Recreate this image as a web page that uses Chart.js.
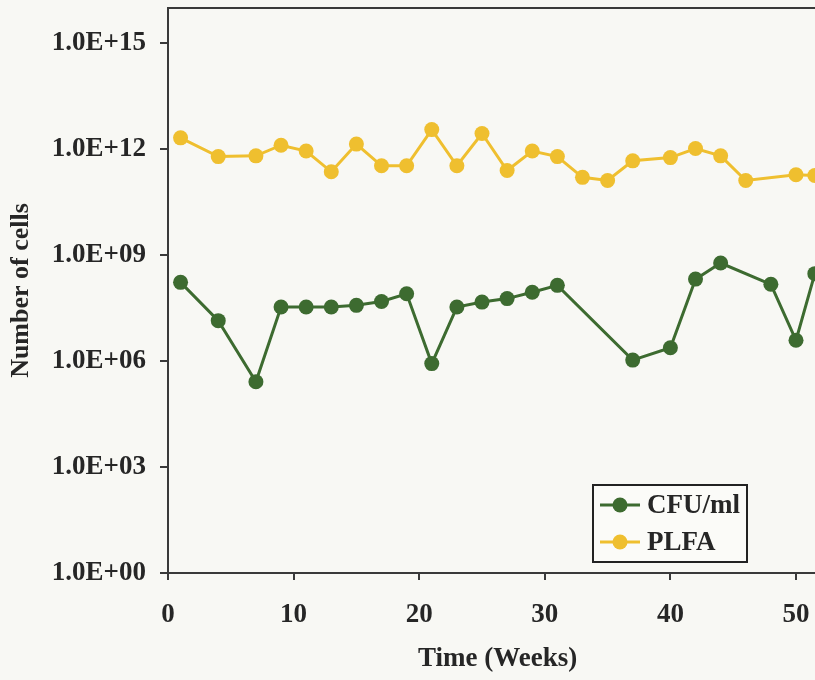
<!DOCTYPE html>
<html><head><meta charset="utf-8">
<script src="https://cdn.jsdelivr.net/npm/chart.js@4.4.0/dist/chart.umd.min.js"></script>
<style>
html,body{margin:0;padding:0;background:#f8f8f4;overflow:hidden;}
#wrap{width:815px;height:680px;overflow:hidden;position:relative;}
canvas{display:block;}
</style></head><body>
<div id="wrap"><canvas id="c" width="850" height="680"></canvas></div>
<script>
// ---- data ----
const seriesLabels = ['CFU/ml', 'PLFA'];
const cfuWeeks  = [1, 4, 7, 9, 11, 13, 15, 17, 19, 21, 23, 25, 27, 29, 31, 37, 40, 42, 44, 48, 50, 51.5];
const cfuValues = [1.7e8, 1.4e7, 2.6e5, 3.4e7, 3.4e7, 3.4e7, 3.8e7, 4.9e7, 8.1e7, 8.5e5, 3.4e7, 4.7e7,
                   5.9e7, 8.9e7, 1.4e8, 1.07e6, 2.4e6, 2.1e8, 6.0e8, 1.5e8, 3.9e6, 3.0e8];
const plfaWeeks  = [1, 4, 7, 9, 11, 13, 15, 17, 19, 21, 23, 25, 27, 29, 31, 33, 35, 37, 40, 42, 44, 46, 50, 51.5];
const plfaValues = [2.1e12, 6.2e11, 6.5e11, 1.3e12, 8.9e11, 2.3e11, 1.4e12, 3.4e11, 3.4e11, 3.6e12, 3.4e11, 2.8e12,
                    2.5e11, 8.9e11, 6.2e11, 1.6e11, 1.3e11, 4.7e11, 5.8e11, 1.05e12, 6.5e11, 1.3e11, 1.9e11, 1.8e11];
const xTickValues = [0, 10, 20, 30, 40, 50];
const yTickValues = [1, 1e3, 1e6, 1e9, 1e12, 1e15];
const xTitle = 'Time (Weeks)';
const yTitle = 'Number of cells';

// ---- styles ----
const FONT = '"Liberation Serif", "Times New Roman", serif';
const INK = '#262626';
const AXIS = '#3a3a3a';
const GREEN = '#3d6b30';
const GOLD = '#efbf2f';

Chart.defaults.font.family = FONT;
Chart.defaults.font.weight = 'bold';
Chart.defaults.color = INK;

function toXY(xs, ys) { return xs.map((x, i) => ({x: x, y: ys[i]})); }
function fmtSci(v) {
  const e = Math.round(Math.log10(v));
  return '1.0E+' + String(e).padStart(2, '0');
}

const bgPlugin = {
  id: 'bg',
  beforeDraw(chart) {
    const ctx = chart.ctx;
    ctx.save();
    ctx.fillStyle = '#f8f8f4';
    ctx.fillRect(0, 0, chart.width, chart.height);
    ctx.restore();
  }
};

const framePlugin = {
  id: 'frame',
  beforeDatasetsDraw(chart) {
    const a = chart.chartArea, ctx = chart.ctx;
    ctx.save();
    ctx.strokeStyle = AXIS;
    ctx.lineWidth = 2;
    ctx.strokeRect(a.left, a.top, a.right - a.left, a.bottom - a.top);
    ctx.restore();
  }
};

const legendPlugin = {
  id: 'boxLegend',
  afterDraw(chart) {
    const ctx = chart.ctx;
    const box = {x: 593, y: 485, w: 154, h: 77};
    ctx.save();
    ctx.fillStyle = '#fbfbf8';
    ctx.fillRect(box.x, box.y, box.w, box.h);
    ctx.strokeStyle = '#222';
    ctx.lineWidth = 2;
    ctx.strokeRect(box.x, box.y, box.w, box.h);
    chart.data.datasets.forEach((ds, i) => {
      const cy = box.y + 20 + i * 37;
      ctx.strokeStyle = ds.borderColor;
      ctx.lineWidth = ds.borderWidth;
      ctx.beginPath();
      ctx.moveTo(box.x + 7, cy);
      ctx.lineTo(box.x + 47, cy);
      ctx.stroke();
      ctx.fillStyle = ds.pointBackgroundColor;
      ctx.beginPath();
      ctx.arc(box.x + 27, cy, ds.pointRadius, 0, Math.PI * 2);
      ctx.fill();
      ctx.fillStyle = INK;
      ctx.font = 'bold 27px ' + FONT;
      ctx.textAlign = 'left';
      ctx.textBaseline = 'middle';
      ctx.fillText(ds.label, box.x + 54, cy + 1);
    });
    ctx.restore();
  }
};

new Chart(document.getElementById('c'), {
  type: 'scatter',
  data: {
    datasets: [
      {
        label: seriesLabels[0],
        data: toXY(cfuWeeks, cfuValues),
        showLine: true,
        borderColor: GREEN,
        backgroundColor: GREEN,
        pointBackgroundColor: GREEN,
        pointBorderColor: GREEN,
        borderWidth: 3,
        pointRadius: 7.5,
        pointBorderWidth: 0,
        tension: 0
      },
      {
        label: seriesLabels[1],
        data: toXY(plfaWeeks, plfaValues),
        showLine: true,
        borderColor: GOLD,
        backgroundColor: GOLD,
        pointBackgroundColor: GOLD,
        pointBorderColor: GOLD,
        borderWidth: 3,
        pointRadius: 7.5,
        pointBorderWidth: 0,
        tension: 0
      }
    ]
  },
  options: {
    responsive: false,
    animation: false,
    events: [],
    layout: {padding: {left: 0, top: 8, right: 22.6, bottom: 0}},
    plugins: {legend: {display: false}, tooltip: {enabled: false}},
    scales: {
      x: {
        type: 'linear',
        min: 0,
        max: 52.5,
        afterBuildTicks(scale) { scale.ticks = xTickValues.map(v => ({value: v})); },
        afterFit(scale) { scale.height = 107; scale.paddingLeft = 0; scale.paddingRight = 0; },
        border: {display: true, color: AXIS, width: 2},
        grid: {drawOnChartArea: false, drawTicks: true, tickLength: 7, color: AXIS, lineWidth: 2},
        ticks: {font: {size: 27, weight: 'bold'}, color: INK, padding: 19, maxRotation: 0},
        title: {display: true, text: xTitle, font: {size: 27, weight: 'bold'}, color: INK, padding: {top: 0, bottom: 5}}
      },
      y: {
        type: 'logarithmic',
        min: 1,
        max: 1e16,
        afterBuildTicks(scale) { scale.ticks = yTickValues.map(v => ({value: v})); },
        afterFit(scale) { scale.width = 168; scale.paddingTop = 0; scale.paddingBottom = 0; },
        border: {display: true, color: AXIS, width: 2},
        grid: {drawOnChartArea: false, drawTicks: true, tickLength: 8, color: AXIS, lineWidth: 2},
        ticks: {font: {size: 27, weight: 'bold'}, color: INK, padding: 14, callback: v => fmtSci(v)},
        title: {display: true, text: yTitle, font: {size: 26, weight: 'bold'}, color: INK, padding: {top: 6, bottom: 0}}
      }
    }
  },
  plugins: [bgPlugin, framePlugin, legendPlugin]
});
</script>
</body></html>
